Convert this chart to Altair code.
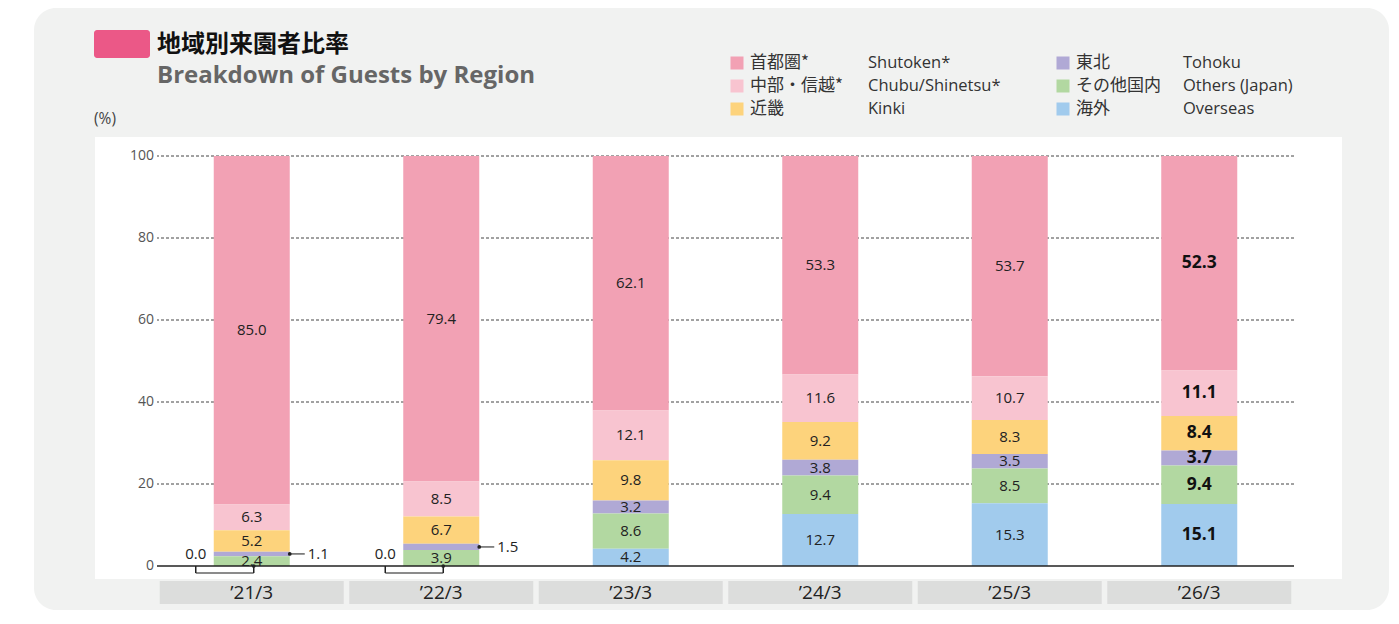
import altair as alt
import pandas as pd

# ---------------- data ----------------
years = ["’21/3", "’22/3", "’23/3", "’24/3", "’25/3", "’26/3"]
regions_en = ["Shutoken*", "Chubu/Shinetsu*", "Kinki", "Tohoku", "Others (Japan)", "Overseas"]
regions_ja = ["首都圏*", "中部・信越*", "近畿", "東北", "その他国内", "海外"]
region_colors = ["#f2a1b4", "#f8c4d0", "#fdd37c", "#b0a9d5", "#b2d8a1", "#a1cbed"]

shutoken = [85.0, 79.4, 62.1, 53.3, 53.7, 52.3]
chubu = [6.3, 8.5, 12.1, 11.6, 10.7, 11.1]
kinki = [5.2, 6.7, 9.8, 9.2, 8.3, 8.4]
tohoku = [1.1, 1.5, 3.2, 3.8, 3.5, 3.7]
others = [2.4, 3.9, 8.6, 9.4, 8.5, 9.4]
overseas = [0.0, 0.0, 4.2, 12.7, 15.3, 15.1]

y_ticks = [0, 20, 40, 60, 80, 100]
callout_years = ["’21/3", "’22/3"]
bold_year = "’26/3"

title_ja = "地域別来園者比率"
title_en = "Breakdown of Guests by Region"
unit_label = "(%)"

# ---------------- table ----------------
series = [shutoken, chubu, kinki, tohoku, others, overseas]
rows = []
for i, (reg, vals) in enumerate(zip(regions_en, series)):
    for yr, v in zip(years, vals):
        rows.append({
            "year": yr,
            "region": reg,
            "value": v,
            "order": len(regions_en) - 1 - i,
            "inside": not (yr in callout_years and reg in ("Tohoku", "Overseas")),
        })
df = pd.DataFrame(rows)

W, H = 1137, 410
FONT = "Open Sans"
JFONT = "Noto Sans CJK JP"

X = alt.X("year:N", sort=years,
          scale=alt.Scale(type="band", domain=years, paddingInner=0, paddingOuter=0),
          axis=None)
yscale = alt.Scale(domain=[0, 100], nice=False)

one = pd.DataFrame({"k": [0]})

base = alt.Chart(df).transform_stack(
    stack="value", groupby=["year"], as_=["y0", "y1"],
    sort=[alt.SortField("order", order="ascending")],
).transform_calculate(mid="(datum.y0 + datum.y1) / 2")

layers = []

# panel background
layers.append(alt.Chart(one).mark_rect(color="#f1f2f1", cornerRadius=22).encode(
    x=alt.value(-123), x2=alt.value(W + 95), y=alt.value(-148), y2=alt.value(H + 44)))
# white plot background
layers.append(alt.Chart(one).mark_rect(color="#ffffff").encode(
    x=alt.value(-62), x2=alt.value(W + 48), y=alt.value(-19), y2=alt.value(H + 13)))

# gridlines
tick_df = pd.DataFrame({"v": y_ticks})
layers.append(alt.Chart(tick_df).transform_filter(alt.datum.v > 0).mark_rule(
    strokeDash=[3, 2], color="#444", strokeWidth=1).encode(
    y=alt.Y("v:Q", scale=yscale, axis=None)))
# y tick labels
layers.append(alt.Chart(tick_df).mark_text(
    align="right", baseline="middle", fontSize=14, font=FONT, color="#555").encode(
    x=alt.value(-3), y=alt.Y("v:Q", scale=yscale, axis=None), text="v:Q"))

# bars
layers.append(base.mark_bar(size=76).encode(
    x=X,
    y=alt.Y("y0:Q", scale=yscale, axis=None),
    y2="y1:Q",
    color=alt.Color("region:N", scale=alt.Scale(domain=regions_en, range=region_colors), legend=None),
))

# baseline
layers.append(alt.Chart(pd.DataFrame({"v": [0]})).mark_rule(color="#222", strokeWidth=1.5).encode(
    y=alt.Y("v:Q", scale=yscale, axis=None)))

# value labels
inside = base.transform_filter(alt.datum.inside == True)
layers.append(inside.transform_filter(alt.datum.year != bold_year).mark_text(
    fontSize=15, font=FONT, color="#222").encode(
    x=X, y=alt.Y("mid:Q", scale=yscale, axis=None), text=alt.Text("value:Q", format=".1f")))
layers.append(inside.transform_filter(alt.datum.year == bold_year).mark_text(
    fontSize=17.5, font=FONT, fontWeight="bold", color="#111").encode(
    x=X, y=alt.Y("mid:Q", scale=yscale, axis=None), text=alt.Text("value:Q", format=".1f")))

# callouts for small Tohoku values
toh = base.transform_filter(
    alt.FieldOneOfPredicate(field="year", oneOf=callout_years)).transform_filter(
    alt.datum.region == "Tohoku")
layers.append(toh.mark_tick(orient="horizontal", size=15, thickness=1.5, color="#222", xOffset=45.5).encode(
    x=X, y=alt.Y("mid:Q", scale=yscale, axis=None)))
layers.append(toh.mark_circle(size=14, color="#222", opacity=1, xOffset=38).encode(
    x=X, y=alt.Y("mid:Q", scale=yscale, axis=None)))
layers.append(toh.mark_text(align="left", dx=56, fontSize=15, font=FONT, color="#222").encode(
    x=X, y=alt.Y("mid:Q", scale=yscale, axis=None), text=alt.Text("value:Q", format=".1f")))

# callouts for zero Overseas values
ovs = base.transform_filter(
    alt.FieldOneOfPredicate(field="year", oneOf=callout_years)).transform_filter(
    alt.datum.region == "Overseas")
layers.append(ovs.mark_text(dx=-56, fontSize=15, font=FONT, color="#222", baseline="middle").encode(
    x=X, y=alt.value(H - 12), text=alt.Text("value:Q", format=".1f")))
layers.append(ovs.mark_rule(xOffset=-56, color="#222", strokeWidth=1.5).encode(
    x=X, y=alt.Y("value:Q", scale=yscale, axis=None), y2=alt.value(H + 7)))
layers.append(ovs.mark_rule(xOffset=2, color="#222", strokeWidth=1.5).encode(
    x=X, y=alt.Y("value:Q", scale=yscale, axis=None), y2=alt.value(H + 7)))
layers.append(ovs.mark_tick(orient="horizontal", size=58, thickness=1.5, color="#222", xOffset=-27).encode(
    x=X, y=alt.value(H + 7)))
layers.append(ovs.mark_circle(size=14, color="#222", opacity=1, xOffset=2).encode(
    x=X, y=alt.Y("value:Q", scale=yscale, axis=None)))

# x category boxes and labels
yr_df = pd.DataFrame({"year": years})
layers.append(alt.Chart(yr_df).mark_bar(size=184, color="#dcdddc").encode(
    x=X, y=alt.value(H + 15), y2=alt.value(H + 38)))
layers.append(alt.Chart(yr_df).mark_text(fontSize=19, font=FONT, color="#222", baseline="middle").encode(
    x=X, y=alt.value(H + 27), text="year:N"))

# titles
layers.append(alt.Chart(one).mark_rect(color="#eb5887", cornerRadius=3).encode(
    x=alt.value(-63), x2=alt.value(-7), y=alt.value(-126), y2=alt.value(-98)))
layers.append(alt.Chart(one).mark_text(align="left", baseline="middle", fontSize=24, fontWeight="bold",
                                      font=JFONT, color="#111").encode(
    x=alt.value(0), y=alt.value(-111), text=alt.value(title_ja)))
layers.append(alt.Chart(one).mark_text(align="left", baseline="alphabetic", fontSize=24, fontWeight="bold",
                                      font=FONT, color="#666").encode(
    x=alt.value(0), y=alt.value(-73), text=alt.value(title_en)))
layers.append(alt.Chart(one).mark_text(align="left", baseline="middle", fontSize=15.5,
                                      font=FONT, color="#444").encode(
    x=alt.value(-63), y=alt.value(-37), text=alt.value(unit_label)))

# legend
col_sq = [580, 906]
col_ja = [593, 919]
col_en = [711, 1026]
row_y = [-93, -70, -47]
for i in range(len(regions_en)):
    c, r = divmod(i, 3)
    layers.append(alt.Chart(one).mark_square(size=169, color=region_colors[i], opacity=1).encode(
        x=alt.value(col_sq[c]), y=alt.value(row_y[r])))
    layers.append(alt.Chart(one).mark_text(align="left", baseline="middle", fontSize=17,
                                          font=JFONT, color="#333").encode(
        x=alt.value(col_ja[c]), y=alt.value(row_y[r]), text=alt.value(regions_ja[i])))
    layers.append(alt.Chart(one).mark_text(align="left", baseline="middle", fontSize=16.5,
                                          font=FONT, color="#333").encode(
        x=alt.value(col_en[c]), y=alt.value(row_y[r]), text=alt.value(regions_en[i])))

chart = alt.layer(*layers).properties(
    width=W, height=H,
    autosize=alt.AutoSizeParams(type="none"),
    padding={"left": 149, "top": 148, "right": 95, "bottom": 44},
    background="#ffffff",
).configure_view(stroke=None)

chart.save("out.html", embed_options={"renderer": "svg", "actions": False})
